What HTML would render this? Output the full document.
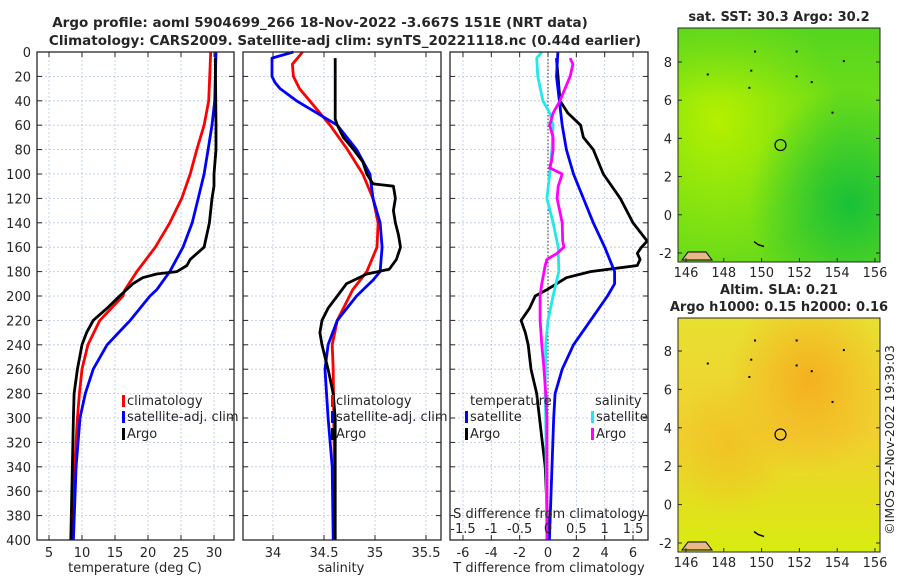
<!DOCTYPE html>
<html><head><meta charset="utf-8"><style>
html,body{margin:0;padding:0;background:#fff;width:900px;height:580px;overflow:hidden}
svg{display:block;font-family:"DejaVu Sans","Liberation Sans",sans-serif}
</style></head><body>
<svg id="fig" width="900" height="580" viewBox="0 0 900 580">
<defs>
<radialGradient id="sstLight" cx="0.2" cy="0.4" r="0.6"><stop offset="0" stop-color="#b4f000"/><stop offset="1" stop-color="#b4f000" stop-opacity="0"/></radialGradient>
<radialGradient id="sstDark" cx="0.85" cy="0.75" r="0.5"><stop offset="0" stop-color="#18c038"/><stop offset="1" stop-color="#18c038" stop-opacity="0"/></radialGradient>
<linearGradient id="sstTop" x1="0" y1="0" x2="0" y2="1"><stop offset="0" stop-color="#38cc28" stop-opacity="0.45"/><stop offset="0.3" stop-color="#38cc28" stop-opacity="0"/></linearGradient>
<radialGradient id="slaO1" cx="0.65" cy="0.27" r="0.4"><stop offset="0" stop-color="#f5b020"/><stop offset="1" stop-color="#f5b020" stop-opacity="0"/></radialGradient>
<radialGradient id="slaO2" cx="0.25" cy="0.55" r="0.3"><stop offset="0" stop-color="#f0c020" stop-opacity="0.8"/><stop offset="1" stop-color="#f0c020" stop-opacity="0"/></radialGradient>
<linearGradient id="slaBase" x1="0" y1="0" x2="0" y2="1"><stop offset="0" stop-color="#e8e030"/><stop offset="0.5" stop-color="#f0d030"/><stop offset="1" stop-color="#d8ec10"/></linearGradient>
</defs>
<g id="layer"></g>
</svg>
<script>
// ---------- data ----------
const depthTicks = [0,20,40,60,80,100,120,140,160,180,200,220,240,260,280,300,320,340,360,380,400];
const tempTicks = [5,10,15,20,25,30];
const salTicks = [34,34.5,35,35.5];
const tdiffTicks = [-6,-4,-2,0,2,4,6];
const sdiffTicks = [-1.5,-1,-0.5,0,0.5,1,1.5];
const sdiffTickLabels = ["-1.5","-1","-0.5","0","0.5","1","1.5"];
const lonTicks = [146,148,150,152,154,156];
const latTicks = [-2,0,2,4,6,8];

const climDepth = [0,40,60,80,100,120,140,160,180,195,200,220,240,260,280,300,340,400];
const climTemp  = [29.5,29.2,28.5,27.4,26.4,25.1,23.3,21.1,18.3,16.5,16.2,12.7,10.9,10,9.6,9.3,8.9,8.6];
const satDepth = [0,40,60,80,100,120,140,160,180,195,200,220,240,260,280,300,340,400];
const satTemp  = [30.3,30.1,29.7,29.1,28.5,27.6,26.7,25.3,23.3,21.3,20.3,17.3,13.8,11.7,10.5,9.7,9.1,8.7];
const argoDepth = [5,60,80,100,110,120,140,160,170,175,180,182,185,190,200,210,220,230,240,260,280,300,400];
const argoTemp  = [30.2,30.3,30.3,30,30,29.7,29.3,28.5,26.4,25.9,24.4,21.3,19.2,17.7,15.7,13.8,11.7,10.7,10,9.3,8.8,8.7,8.3];

const climSDepth = [0,10,20,30,40,60,80,100,120,140,160,180,195,220,240,260,400];
const climSal    = [34.29,34.19,34.2,34.26,34.36,34.56,34.73,34.88,34.98,35.03,35.02,34.92,34.78,34.63,34.58,34.59,34.61];
const satSDepth = [0,5,20,25,30,40,60,80,100,120,140,160,180,187,200,220,240,260,300,340,400];
const satSal    = [34.2,33.99,33.99,34.02,34.07,34.23,34.63,34.82,34.95,34.98,35.05,35.07,35.05,34.98,34.82,34.63,34.54,34.51,34.54,34.58,34.59];
const argoSDepth = [5,55,60,70,80,90,100,108,110,120,130,140,150,160,170,178,182,190,200,210,220,230,240,250,260,280,300,400];
const argoSal    = [34.61,34.61,34.63,34.69,34.79,34.88,34.92,34.98,35.18,35.2,35.18,35.2,35.23,35.25,35.21,35.14,34.92,34.72,34.63,34.54,34.48,34.46,34.48,34.51,34.54,34.59,34.61,34.61];

const tdArgoDepth = [5,40,50,60,70,80,100,120,140,155,160,165,170,175,180,185,190,195,200,210,220,230,240,250,260,280,300,340,380,400];
const tdArgo      = [0.6,0.85,1.4,2.3,2.5,3.2,3.9,5.1,6,7,6.6,6.3,6.5,6.3,3,1.3,0.6,-0.1,-0.9,-1.3,-1.9,-1.6,-1.4,-1.3,-1.2,-0.8,-0.6,-0.2,-0.05,0];
const tdSatDepth = [0,20,60,80,100,120,140,160,180,190,200,220,240,260,280,300,400];
const tdSat      = [0.7,0.6,1.0,1.3,1.8,2.5,3.2,4,4.7,4.7,4.2,3,1.8,1.0,0.5,0.4,0.1];
const sdSatDepth = [0,5,20,40,50,60,80,100,120,140,160,180,200,220,240,280,300,400];
const sdSat      = [-0.11,-0.2,-0.18,-0.09,0.03,0.09,0.07,0.03,-0.02,0.09,0.18,0.19,0.09,0,-0.04,-0.05,-0.04,-0.02];
const sdArgoDepth = [5,10,20,40,50,60,70,80,90,95,100,110,120,140,155,160,165,170,175,190,200,220,240,260,280,300,400];
const sdArgo      = [0.39,0.44,0.39,0.21,0.09,0.03,0.09,0.09,0.06,0.03,0.25,0.18,0.16,0.25,0.26,0.28,0.16,-0.02,-0.05,-0.11,-0.14,-0.14,-0.11,-0.07,-0.04,-0.02,-0.02];

const floatLon = 151.0, floatLat = 3.65;

// ---------- helpers ----------
const NS = "http://www.w3.org/2000/svg";
const root = document.getElementById("layer");
function el(tag, attrs, parent){const e=document.createElementNS(NS,tag);for(const k in attrs)e.setAttribute(k,attrs[k]);(parent||root).appendChild(e);return e;}
function txt(x,y,s,attrs,parent){const t=el("text",Object.assign({x:x,y:y,"font-size":13,fill:"#262626"},attrs||{}),parent);t.textContent=s;return t;}

const PT=52, PB=540;
const yD = d => PT + d*(PB-PT)/400;
const P1={l:37,r:234}, P2={l:243,r:441}, P3={l:450,r:648};
const xT = t => 49 + (t-5)*6.6;
const xS = s => 273 + (s-34)*102;
const xTD = v => 548 + v*14.17;
const xSD = v => 548 + v*56.7;

function panel(P,name,xTicks,xf,labels){
  const g=el("g",{});
  
  
  depthTicks.forEach(d=>{const l=el("line",{x1:P.l,x2:P.r,y1:yD(d),y2:yD(d),stroke:"#b8c4e8","stroke-width":0.8,"stroke-dasharray":"2,2"},g);
    });
  xTicks.forEach(v=>{const l=el("line",{x1:xf(v),x2:xf(v),y1:PT,y2:PB,stroke:"#b8c4e8","stroke-width":0.8,"stroke-dasharray":"2,2"},g);
    });
  depthTicks.forEach(d=>{el("line",{x1:P.l,x2:P.l+5,y1:yD(d),y2:yD(d),stroke:"#262626"},g);el("line",{x1:P.r,x2:P.r-5,y1:yD(d),y2:yD(d),stroke:"#262626"},g);});
  xTicks.forEach(v=>{el("line",{x1:xf(v),x2:xf(v),y1:PB,y2:PB-5,stroke:"#262626"},g);el("line",{x1:xf(v),x2:xf(v),y1:PT,y2:PT+5,stroke:"#262626"},g);});
  if(labels){xTicks.forEach((v,i)=>{const t=txt(xf(v),557,labels[i],{"text-anchor":"middle"},g);});}
  return g;
}
function frame(P,g){const r=el("rect",{x:P.l,y:PT,width:P.r-P.l,height:PB-PT,fill:"none",stroke:"#262626","stroke-width":1.3},g);}
function line(xs,ds,xf,color,name,g,w){
  const pts=xs.map((v,i)=>xf(v).toFixed(1)+","+yD(ds[i]).toFixed(1)).join(" ");
  const p=el("polyline",{points:pts,fill:"none",stroke:color,"stroke-width":w||2.8,"stroke-linejoin":"round"},g);
  
  
  return p;
}
function legendEntry(x,y,color,label,g){
  el("rect",{x:x,y:y-10,width:3,height:12,fill:color},g);
  const t=txt(x+5,y,label,{},g);
  
  
}

let t1=txt(320,27,"Argo profile: aoml 5904699_266 18-Nov-2022 -3.667S 151E (NRT data)",{"text-anchor":"middle","font-weight":"bold","font-size":13.5});

let t2=txt(345,45,"Climatology: CARS2009. Satellite-adj clim: synTS_20221118.nc (0.44d earlier)",{"text-anchor":"middle","font-weight":"bold","font-size":13.5});


depthTicks.forEach(d=>{const t=txt(31,yD(d)+5,String(d),{"text-anchor":"end"});});

const g1=panel(P1,"temperature-panel",tempTicks,xT,tempTicks.map(String));
line(climTemp,climDepth,xT,"#ff0000","climatology-temp-line",g1);
line(satTemp,satDepth,xT,"#0000ff","satellite-temp-line",g1);
line(argoTemp,argoDepth,xT,"#000000","argo-temp-line",g1);
frame(P1,g1);
legendEntry(122,405,"#ff0000","climatology",g1);
legendEntry(122,421,"#0000ff","satellite-adj. clim",g1);
legendEntry(122,438,"#000000","Argo",g1);
let xl1=txt(135,572,"temperature (deg C)",{"text-anchor":"middle"});

const g2=panel(P2,"salinity-panel",salTicks,xS,salTicks.map(String));
line(climSal,climSDepth,xS,"#ff0000","climatology-salinity-line",g2);
line(satSal,satSDepth,xS,"#0000ff","satellite-salinity-line",g2);
line(argoSal,argoSDepth,xS,"#000000","argo-salinity-line",g2);
frame(P2,g2);
legendEntry(331,405,"#ff0000","climatology",g2);
legendEntry(331,421,"#0000ff","satellite-adj. clim",g2);
legendEntry(331,438,"#000000","Argo",g2);
let xl2=txt(341,572,"salinity",{"text-anchor":"middle"});

const g3=panel(P3,"difference-panel",tdiffTicks,xTD,tdiffTicks.map(String));
const zl=el("line",{x1:548,x2:548,y1:PT,y2:PB,stroke:"#333","stroke-width":1,"stroke-dasharray":"1.5,2"},g3);

line(tdArgo,tdArgoDepth,xTD,"#000000","argo-temp-diff-line",g3);
line(tdSat,tdSatDepth,xTD,"#0000ff","satellite-temp-diff-line",g3);
line(sdSat,sdSatDepth,xSD,"#22e8e8","satellite-salinity-diff-line",g3);
line(sdArgo,sdArgoDepth,xSD,"#ff00ff","argo-salinity-diff-line",g3);
frame(P3,g3);
let lh1=txt(470,405,"temperature",{},g3);
let lh2=txt(595,405,"salinity",{},g3);
legendEntry(465,421,"#0000ff","satellite",g3);
legendEntry(465,438,"#000000","Argo",g3);
legendEntry(591,421,"#22e8e8","satellite",g3);
legendEntry(591,438,"#ff00ff","Argo",g3);
let st=txt(549,518,"S difference from climatology",{"text-anchor":"middle"},g3);
sdiffTicks.forEach((v,i)=>{const t=txt(xSD(v),533,sdiffTickLabels[i],{"text-anchor":"middle"},g3);});
let tt=txt(549,572,"T difference from climatology",{"text-anchor":"middle"});

function mapPanel(top,bottom,name,title,kind,latY8,latYm2){
  const L=678,R=880;
  const g=el("g",{});
  
  
  const xLon = lo => 686 + (lo-146)*18.9;
  const yLat = la => latYm2 + (la+2)*(latY8-latYm2)/10;
  if(kind==="sst"){
    el("rect",{x:L,y:top,width:R-L,height:bottom-top,fill:"#6cdc18"},g);
    el("rect",{x:L,y:top,width:R-L,height:bottom-top,fill:"url(#sstLight)"},g);
    el("rect",{x:L,y:top,width:R-L,height:bottom-top,fill:"url(#sstDark)"},g);
    el("rect",{x:L,y:top,width:R-L,height:bottom-top,fill:"url(#sstTop)"},g);
  } else {
    el("rect",{x:L,y:top,width:R-L,height:bottom-top,fill:"url(#slaBase)"},g);
    el("rect",{x:L,y:top,width:R-L,height:bottom-top,fill:"url(#slaO1)"},g);
    el("rect",{x:L,y:top,width:R-L,height:bottom-top,fill:"url(#slaO2)"},g);
  }
  el("path",{d:`M${L+4},${bottom-2} l6,-8 l18,0 l6,8 z`,fill:"#e8b888",stroke:"#000","stroke-width":1},g);
  el("path",{d:`M${xLon(149.6)},${yLat(-1.4)} l4,3 l6,2`,fill:"none",stroke:"#000","stroke-width":1.5},g);
  [[151.8,7.3],[154.3,8.1],[149.4,7.6],[147.1,7.4],[153.7,5.4],[149.6,8.6],[151.8,8.6],[152.6,7.0],[149.3,6.7]].forEach(p=>{
    el("rect",{x:xLon(p[0]),y:yLat(p[1]),width:2,height:2,fill:"#000"},g);});
  const c=el("circle",{cx:xLon(floatLon),cy:yLat(floatLat),r:5.5,fill:"none",stroke:"#000","stroke-width":1.2},g);
  
  el("rect",{x:L,y:top,width:R-L,height:bottom-top,fill:"none",stroke:"#262626","stroke-width":1},g);
  lonTicks.forEach(v=>{el("line",{x1:xLon(v),x2:xLon(v),y1:bottom,y2:bottom-4,stroke:"#262626"},g);
    const t=txt(xLon(v),bottom+15,String(v),{"text-anchor":"middle"},g);});
  latTicks.forEach(v=>{el("line",{x1:L,x2:L+4,y1:yLat(v),y2:yLat(v),stroke:"#262626"},g);el("line",{x1:R,x2:R-4,y1:yLat(v),y2:yLat(v),stroke:"#262626"},g);
    const t=txt(672,yLat(v)+5,String(v),{"text-anchor":"end"},g);});
  title.forEach((s,i)=>{const t=txt(779,top-7-(title.length-1-i)*17,s,{"text-anchor":"middle","font-weight":"bold"},g);});
}
mapPanel(28,262,"sst-map",["sat. SST: 30.3 Argo: 30.2"],"sst",62,253);
mapPanel(318,552,"sla-map",["Altim. SLA: 0.21","Argo h1000: 0.15 h2000: 0.16"],"sla",351,543);

let cr=txt(0,0,"©IMOS 22-Nov-2022 19:39:03",{"text-anchor":"middle","transform":"translate(894,440) rotate(-90)","font-size":12.5});

</script>
</body></html>
